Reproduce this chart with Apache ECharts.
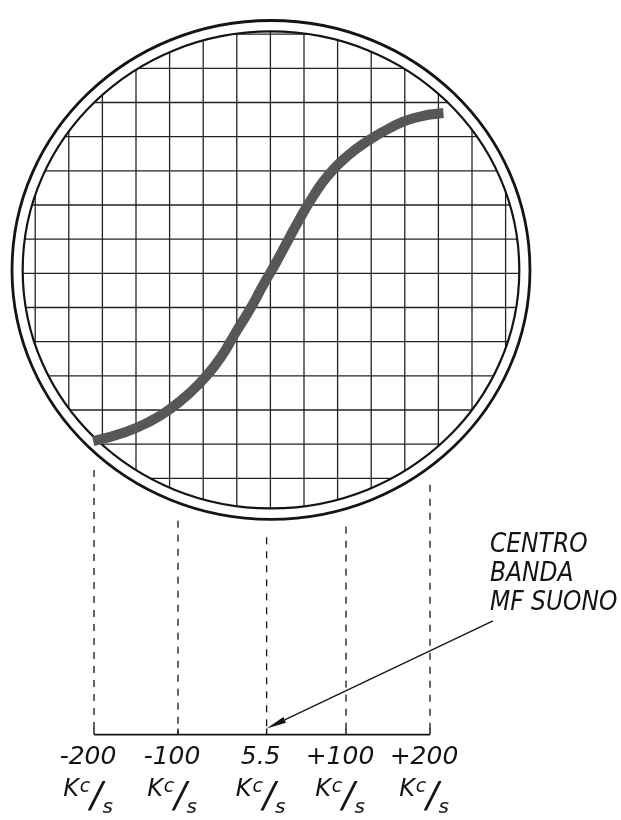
<!DOCTYPE html>
<html>
<head>
<meta charset="utf-8">
<script src="https://cdn.jsdelivr.net/npm/echarts@6/dist/echarts.min.js"></script>
<style>
  html, body { margin: 0; padding: 0; background: #fff; }
  #chart { width: 621px; height: 820px; }
</style>
</head>
<body>
<div id="chart"></div>
<script>
// Frequency marks under the screen (kc/s) and their printed labels
const markFreqs  = [-200, -100, 5.5, 100, 200];
const markLabels = ['-200', '-100', '5.5', '+100', '+200'];

// Discriminator S-curve: frequency offset (kc/s) against vertical deflection (screen divisions)
const curveFreq = [-201, -163, -133, -110, -86, -66, -48, -32, -14, 1, 16, 30, 45, 61, 79, 101, 125, 152, 180, 216];
const curveDefl = [-4.91, -4.65, -4.33, -3.98, -3.50, -3.00, -2.42, -1.76, -1.04, -0.36, 0.28, 0.92, 1.60, 2.26, 2.88, 3.42, 3.86, 4.25, 4.54, 4.69];

// Callout pointing at the sound IF centre
const calloutLines = ['CENTRO', 'BANDA', 'MF SUONO'];
const calloutFrom  = [275, -10.17];
const calloutTo    = [5.5, -13.32];

// Oscilloscope screen, in axis units (kc/s horizontally, divisions vertically)
const SCREEN = { cx: 10.7, cy: 0.1, outer: [308.3, 7.3], inner: [295.6, 6.98] };
const RULE_STEP_X = 40, RULE_ORIGIN_X = 10;   // vertical rulings every 40 kc/s
const BASELINE = -13.5;                        // frequency scale line

const INK = '#141414';

function ellipseY(cx, cy, rx, ry, x) {
  const t = (x - cx) / rx;
  if (Math.abs(t) >= 1) return null;
  return ry * Math.sqrt(1 - t * t);
}

function renderScreen(params, api) {
  const c = api.coord([SCREEN.cx, SCREEN.cy]);
  const o = api.size(SCREEN.outer);
  const i = api.size(SCREEN.inner);
  const children = [];
  // rulings clipped to the inner rim
  for (let k = -8; k <= 8; k++) {
    const px = api.coord([RULE_ORIGIN_X + k * RULE_STEP_X, 0])[0];
    const h = ellipseY(c[0], c[1], i[0], i[1], px);
    if (h) children.push({
      type: 'line',
      shape: { x1: px, y1: c[1] - h, x2: px, y2: c[1] + h },
      style: { stroke: '#222', lineWidth: 1.3 }
    });
  }
  for (let k = -8; k <= 8; k++) {
    const py = api.coord([0, k])[1];
    const w = ellipseY(c[1], c[0], i[1], i[0], py);
    if (w) children.push({
      type: 'line',
      shape: { x1: c[0] - w, y1: py, x2: c[0] + w, y2: py },
      style: { stroke: '#222', lineWidth: 1.3 }
    });
  }
  children.push({
    type: 'ellipse',
    shape: { cx: c[0], cy: c[1], rx: i[0], ry: i[1] },
    style: { fill: null, stroke: INK, lineWidth: 2.2 }
  });
  children.push({
    type: 'ellipse',
    shape: { cx: c[0], cy: c[1], rx: o[0], ry: o[1] },
    style: { fill: null, stroke: INK, lineWidth: 2.8 }
  });
  return { type: 'group', children: children };
}

function renderMarks(params, api) {
  const f = api.value(0);
  const c = api.coord([SCREEN.cx, SCREEN.cy]);
  const o = api.size(SCREEN.outer);
  const base = api.coord([f, BASELINE]);
  const h = ellipseY(c[0], c[1], o[0], o[1], base[0]) || 0;
  const top = c[1] + h + 18;
  const children = [{
    type: 'line',
    shape: { x1: base[0], y1: top, x2: base[0], y2: base[1] },
    style: { stroke: INK, lineWidth: 1.3, lineDash: [7, 7] }
  }, {
    type: 'line',
    shape: { x1: base[0], y1: base[1] - 6, x2: base[0], y2: base[1] },
    style: { stroke: INK, lineWidth: 1.4 }
  }];
  if (params.dataIndex === 0) {
    const end = api.coord([markFreqs[markFreqs.length - 1], BASELINE]);
    children.push({
      type: 'line',
      shape: { x1: base[0], y1: base[1], x2: end[0], y2: end[1] },
      style: { stroke: INK, lineWidth: 1.6 }
    });
  }
  return { type: 'group', children: children };
}

function renderCallout(params, api) {
  const p0 = api.coord(calloutFrom);
  const p1 = api.coord(calloutTo);
  const dx = p1[0] - p0[0], dy = p1[1] - p0[1];
  const len = Math.sqrt(dx * dx + dy * dy);
  const ux = dx / len, uy = dy / len;
  const headLen = 20, headHalf = 3.2;
  const bx = p1[0] - ux * headLen, by = p1[1] - uy * headLen;
  return {
    type: 'group',
    children: [{
      type: 'line',
      shape: { x1: p0[0], y1: p0[1], x2: bx, y2: by },
      style: { stroke: INK, lineWidth: 1.3 }
    }, {
      type: 'polygon',
      shape: { points: [[p1[0], p1[1]], [bx - uy * headHalf, by + ux * headHalf], [bx + uy * headHalf, by - ux * headHalf]] },
      style: { fill: INK }
    }, {
      type: 'text',
      style: {
        text: calloutLines.join('\n'),
        x: p0[0] - 3, y: p0[1] - 90,
        font: 'italic 26px "DejaVu Sans Condensed", "DejaVu Sans", sans-serif',
        fill: INK, align: 'left', verticalAlign: 'top', lineHeight: 29
      }
    }]
  };
}

const labelFont = { fontFamily: 'DejaVu Sans', fontStyle: 'italic', color: INK };

const chart = echarts.init(document.getElementById('chart'), null, { renderer: 'canvas' });
chart.setOption({
  animation: false,
  backgroundColor: '#fff',
  grid: { left: 1.6, top: -6.6, width: 537.6, height: 830.4, containLabel: false },
  xAxis: { type: 'value', min: -310, max: 330, show: false },
  yAxis: { type: 'value', min: -16, max: 8, show: false },
  series: [
    {
      type: 'custom', name: 'screen', clip: false, z: 1,
      renderItem: renderScreen,
      data: [[SCREEN.cx, SCREEN.cy]]
    },
    {
      type: 'line', name: 'S-curve', z: 3,
      data: curveFreq.map((f, k) => [f, curveDefl[k]]),
      smooth: 0.5, showSymbol: false, symbol: 'none',
      lineStyle: { color: '#575757', width: 10, cap: 'butt', join: 'round' }
    },
    {
      type: 'custom', name: 'marks', clip: false, z: 2,
      renderItem: renderMarks,
      data: markFreqs.map(f => [f, BASELINE])
    },
    {
      type: 'scatter', name: 'mark labels', z: 4,
      symbolSize: 0,
      itemStyle: { opacity: 1 },
      data: markFreqs.map((f, k) => ({ value: [f, BASELINE], name: markLabels[k] })),
      label: {
        show: true, position: 'bottom', distance: 0, offset: [-6, 3], color: INK,
        formatter: p => '{n|' + p.name + '}\n{k|K}{c|c}{sl|/}{s|s}',
        rich: {
          n:  Object.assign({ fontSize: 25, lineHeight: 40 }, labelFont),
          k:  Object.assign({ fontSize: 24, lineHeight: 26, verticalAlign: 'top' }, labelFont),
          c:  Object.assign({ fontSize: 19, lineHeight: 16, verticalAlign: 'top', padding: [0, 0, 0, 1] }, labelFont),
          sl: Object.assign({ fontSize: 36, lineHeight: 40, verticalAlign: 'middle' }, labelFont),
          s:  Object.assign({ fontSize: 20, lineHeight: 28, verticalAlign: 'bottom' }, labelFont)
        }
      }
    },
    {
      type: 'custom', name: 'callout', clip: false, z: 4,
      renderItem: renderCallout,
      data: [calloutFrom]
    }
  ]
});
</script>
</body>
</html>
